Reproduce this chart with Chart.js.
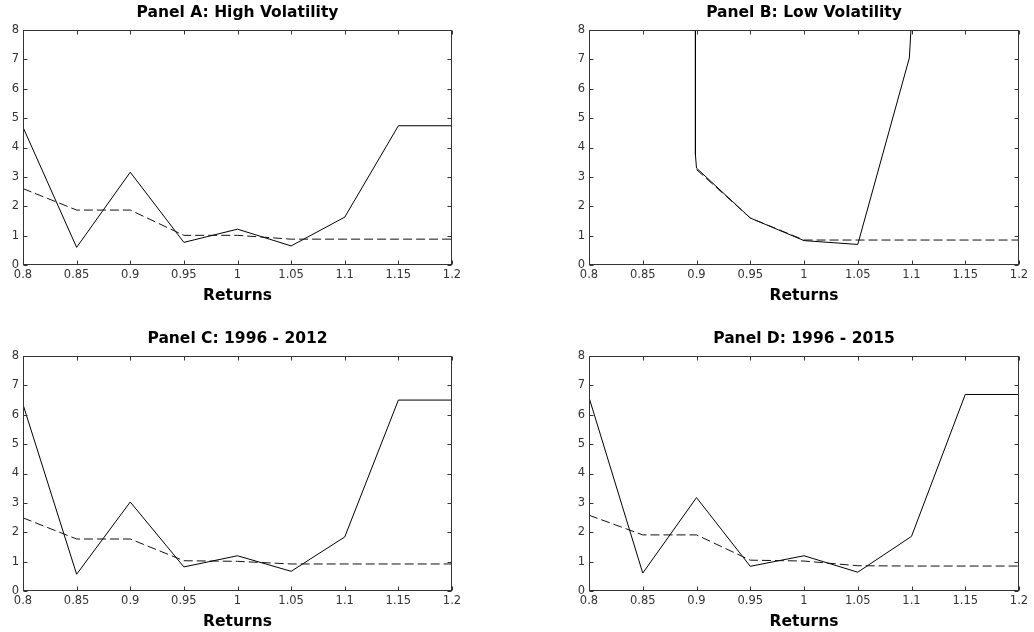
<!DOCTYPE html>
<html>
<head>
<meta charset="utf-8">
<script src="https://cdn.jsdelivr.net/npm/chart.js"></script>
<style>
  body { margin: 0; background: #fff; }
  #wrap { position: relative; width: 1034px; height: 632px; }
  #wrap canvas { position: absolute; }
</style>
</head>
<body>
<div id="wrap">
  <canvas id="panelA" width="517" height="306" style="left:0;top:0"></canvas>
  <canvas id="panelB" width="517" height="306" style="left:517px;top:0"></canvas>
  <canvas id="panelC" width="517" height="306" style="left:0;top:326px"></canvas>
  <canvas id="panelD" width="517" height="306" style="left:517px;top:326px"></canvas>
</div>
<script>
// returns grid and ticks
const xTicks = [0.8, 0.85, 0.9, 0.95, 1, 1.05, 1.1, 1.15, 1.2];
const returns = [0.8, 0.85, 0.9, 0.95, 1.0, 1.05, 1.1, 1.15, 1.2];

// Panel A: High Volatility
const highVolSolid = [4.69, 0.6, 3.16, 0.77, 1.22, 0.65, 1.63, 4.74, 4.74];
const highVolDashed = [2.6, 1.87, 1.87, 1.01, 1.01, 0.88, 0.88, 0.88, 0.88];

// Panel B: Low Volatility (curve is cut at the frame, so own x values)
const lowVolSolidX = [0.899, 0.899, 0.9, 0.95, 1.0, 1.05, 1.098, 1.0995];
const lowVolSolid = [8, 3.75, 3.3, 1.6, 0.83, 0.7, 7.05, 8];
const lowVolDashedX = [0.9, 0.95, 1.0, 1.05, 1.1, 1.15, 1.2];
const lowVolDashed = [3.25, 1.6, 0.85, 0.85, 0.85, 0.85, 0.85];

// Panel C: 1996 - 2012
const p2012Solid = [6.35, 0.57, 3.03, 0.82, 1.2, 0.67, 1.84, 6.5, 6.5];
const p2012Dashed = [2.49, 1.77, 1.77, 1.03, 1.01, 0.92, 0.92, 0.92, 0.92];

// Panel D: 1996 - 2015
const p2015Solid = [6.59, 0.61, 3.18, 0.84, 1.2, 0.64, 1.86, 6.69, 6.69];
const p2015Dashed = [2.58, 1.91, 1.91, 1.05, 1.02, 0.86, 0.85, 0.85, 0.85];

Chart.defaults.font.family = '"DejaVu Sans", sans-serif';

const pts = (xs, ys) => xs.map((x, i) => ({x: x, y: ys[i]}));

// matlab style frame with inward ticks on every side
const innerTicks = {
    id: 'innerTicks',
    afterDraw(chart) {
        const {ctx, chartArea: a, scales: {x, y}} = chart;
        const L = Math.round(a.left) + 0.5, R = Math.round(a.right) - 0.5;
        const T = Math.round(a.top) + 0.5, B = Math.round(a.bottom) - 0.5;
        ctx.save();
        ctx.strokeStyle = '#333';
        ctx.lineWidth = 1;
        ctx.beginPath();
        x.ticks.forEach(t => {
            const px = Math.round(x.getPixelForValue(t.value)) + 0.5;
            ctx.moveTo(px, B); ctx.lineTo(px, B - 4);
            ctx.moveTo(px, T); ctx.lineTo(px, T + 4);
        });
        y.ticks.forEach(t => {
            const py = Math.round(y.getPixelForValue(t.value)) + 0.5;
            ctx.moveTo(L, py); ctx.lineTo(L + 4, py);
            ctx.moveTo(R, py); ctx.lineTo(R - 4, py);
        });
        ctx.stroke();
        ctx.strokeRect(L, T, R - L, B - T);
        ctx.restore();
    }
};

function makePanel(id, title, solid, dashed, yWidth, padRight) {
    new Chart(document.getElementById(id), {
        type: 'line',
        data: {
            datasets: [
                {
                    data: dashed,
                    borderColor: '#111',
                    borderWidth: 1,
                    borderDash: [9, 4],
                    pointRadius: 0,
                    tension: 0,
                },
                {
                    data: solid,
                    borderColor: '#000',
                    borderWidth: 1,
                    pointRadius: 0,
                    tension: 0,
                },
            ]
        },
        options: {
            responsive: false,
            animation: false,
            layout: { padding: { right: padRight } },
            scales: {
                x: {
                    type: 'linear',
                    min: 0.8,
                    max: 1.2,
                    grid: { display: false, drawTicks: false },
                    border: { display: false },
                    afterBuildTicks: s => { s.ticks = xTicks.map(v => ({value: v})); },
                    afterFit: s => { s.height = 41; },
                    ticks: {
                        padding: 3,
                        color: '#333',
                        font: { size: 11.5 },
                        maxRotation: 0,
                        autoSkip: false,
                        callback: v => String(+v.toFixed(2)),
                    },
                    title: {
                        display: true,
                        text: 'Returns',
                        color: '#000',
                        font: { size: 15.5, weight: 'bold' },
                        padding: { top: 1, bottom: 1 },
                    },
                },
                y: {
                    min: 0,
                    max: 8,
                    grid: { display: false, drawTicks: false },
                    border: { display: false },
                    afterFit: s => { s.width = yWidth; },
                    ticks: {
                        stepSize: 1,
                        padding: 4,
                        color: '#333',
                        font: { size: 11.5 },
                    },
                },
            },
            plugins: {
                legend: { display: false },
                tooltip: { enabled: false },
                title: {
                    display: true,
                    text: title,
                    fullSize: false,
                    color: '#000',
                    font: { size: 15.5, weight: 'bold' },
                    padding: { top: 4, bottom: 7.4 },
                },
            },
        },
        plugins: [innerTicks],
    });
}

makePanel('panelA', 'Panel A: High Volatility', pts(returns, highVolSolid), pts(returns, highVolDashed), 23, 65);
makePanel('panelB', 'Panel B: Low Volatility', pts(lowVolSolidX, lowVolSolid), pts(lowVolDashedX, lowVolDashed), 72, 15);
makePanel('panelC', 'Panel C: 1996 - 2012', pts(returns, p2012Solid), pts(returns, p2012Dashed), 23, 65);
makePanel('panelD', 'Panel D: 1996 - 2015', pts(returns, p2015Solid), pts(returns, p2015Dashed), 72, 15);
</script>
</body>
</html>
